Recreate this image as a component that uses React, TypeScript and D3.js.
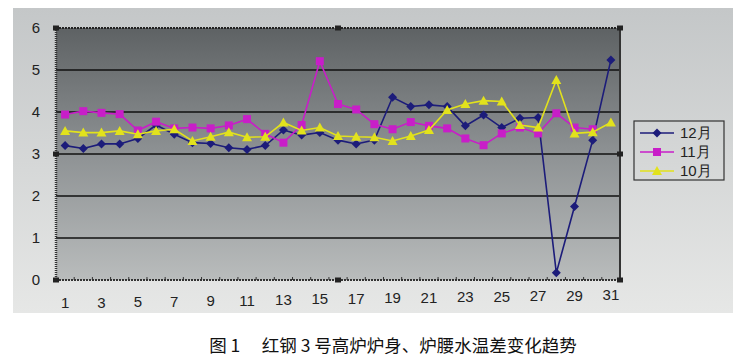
import * as d3 from "d3";
import React from "react";

const days = d3.range(1, 32);
const xTickLabels = ["1", "3", "5", "7", "9", "11", "13", "15", "17", "19", "21", "23", "25", "27", "29", "31"];
const yTicks = [0, 1, 2, 3, 4, 5, 6];

const dec = [3.2, 3.13, 3.24, 3.24, 3.37, 3.69, 3.47, 3.27, 3.25, 3.15, 3.11, 3.2, 3.57, 3.45, 3.51, 3.33,
  3.24, 3.33, 4.35, 4.13, 4.17, 4.13, 3.67, 3.93, 3.63, 3.85, 3.87, 0.17, 1.75, 3.33, 5.24];
const nov = [3.94, 4.02, 3.98, 3.95, 3.56, 3.77, 3.61, 3.63, 3.61, 3.68, 3.83, 3.48, 3.27, 3.69, 5.21, 4.19,
  4.06, 3.71, 3.59, 3.76, 3.67, 3.61, 3.37, 3.21, 3.49, 3.63, 3.49, 3.97, 3.63, 3.59];
const oct = [3.55, 3.51, 3.51, 3.55, 3.47, 3.55, 3.59, 3.31, 3.41, 3.52, 3.4, 3.41, 3.75, 3.56, 3.63, 3.43,
  3.41, 3.4, 3.31, 3.43, 3.57, 4.05, 4.19, 4.27, 4.25, 3.69, 3.63, 4.76, 3.49, 3.52, 3.75];

const seriesNames = ["12月", "11月", "10月"];
const colors = ["#1c1c7a", "#c81ec8", "#e2e21c"];
const allSeries = [dec, nov, oct];

const W = 744, H = 359;
const left = 56, right = 620, top = 28, bottom = 280;

function Marker({ kind, x, y, color }: { kind: number; x: number; y: number; color: string }) {
  if (kind === 0) {
    return <path d={`M${x},${y - 4.5}L${x + 4.5},${y}L${x},${y + 4.5}L${x - 4.5},${y}Z`} fill={color} />;
  }
  if (kind === 1) {
    return <rect x={x - 4} y={y - 4} width={8} height={8} fill={color} />;
  }
  return <path d={`M${x},${y - 5}L${x + 5},${y + 4}L${x - 5},${y + 4}Z`} fill={color} />;
}

export default function App() {
  const x = d3.scalePoint<number>().domain(days).range([left, right]).padding(0.5);
  const y = d3.scaleLinear().domain([0, 6]).range([bottom, top]);
  const line = d3.line<number>().x((_, i) => x(i + 1)!).y(d => y(d));
  const handles = [
    [left, top], [(left + right) / 2, top], [right, top],
    [left, y(3)], [right, y(3)],
    [left, bottom], [(left + right) / 2, bottom], [right, bottom],
  ];

  return (
    <svg width={W} height={H} style={{ position: "absolute", left: 0, top: 0 }}
      fontFamily="'Liberation Sans', Arial, sans-serif">
      <defs>
        <linearGradient id="bg" x1="0" y1="0" x2="0" y2="1">
          <stop offset="0" stopColor="#c4c7c8" />
          <stop offset="1" stopColor="#e6e7e6" />
        </linearGradient>
        <linearGradient id="plot" x1="0" y1="0" x2="0" y2="1">
          <stop offset="0" stopColor="#5e6264" />
          <stop offset="0.5" stopColor="#8e9294" />
          <stop offset="1" stopColor="#b9bcbc" />
        </linearGradient>
      </defs>
      <rect width={W} height={H} fill="#fff" />
      <rect x={13} y={8} width={720} height={305} fill="url(#bg)" />
      <rect x={left} y={top} width={right - left} height={bottom - top} fill="url(#plot)" />

      {yTicks.filter(t => t > 0 && t < 6).map(t => (
        <line key={t} x1={left} x2={right} y1={y(t)} y2={y(t)} stroke="#111" strokeWidth={1.4} />
      ))}
      <line x1={left} x2={right} y1={top} y2={top} stroke="#222" strokeWidth={2} strokeDasharray="2,1" />
      <line x1={right} x2={right} y1={top} y2={bottom} stroke="#333" strokeWidth={2} />
      <line x1={left} x2={left} y1={top} y2={bottom} stroke="#333" strokeWidth={2.5} strokeDasharray="1,1" />
      <line x1={left} x2={right} y1={bottom} y2={bottom} stroke="#333" strokeWidth={2} strokeDasharray="2,1" />
      {days.map(d => (
        <line key={d} x1={x(d)! + 9.1} x2={x(d)! + 9.1} y1={bottom} y2={bottom - 3} stroke="#333" />
      ))}

      {yTicks.map(t => (
        <text key={t} x={36} y={y(t)} dy="0.35em" textAnchor="middle" fontSize={15} fill="#222">{t}</text>
      ))}
      {xTickLabels.map((l, i) => (
        <text key={l} x={x(+l)!} y={303 - i * 0.55} dy="0.35em" textAnchor="middle" fontSize={15} fill="#222">{l}</text>
      ))}

      {allSeries.map((s, k) => (
        <g key={k}>
          <path d={line(s) ?? ""} fill="none" stroke={colors[k]} strokeWidth={1.6} />
          {s.map((v, i) => <Marker key={i} kind={k} x={x(i + 1)!} y={y(v)} color={colors[k]} />)}
        </g>
      ))}

      {handles.map(([hx, hy], i) => (
        <rect key={i} x={hx - 3} y={hy - 2.5} width={6} height={5} fill="#222" />
      ))}

      <rect x={634} y={121} width={90} height={59} fill="none" stroke="#333" strokeWidth={1.2} />
      {seriesNames.map((n, k) => (
        <g key={n} transform={`translate(0,${133 + k * 19})`}>
          <line x1={640} x2={674} y1={0} y2={0} stroke={colors[k]} strokeWidth={1.6} />
          <Marker kind={k} x={657} y={0} color={colors[k]} />
          <text x={680} y={0} dy="0.35em" fontSize={15} fill="#222">{n}</text>
        </g>
      ))}

      <text x={393} y={346} dy="0.35em" textAnchor="middle" fontSize={17.5}
        fontFamily="'Noto Sans CJK SC', sans-serif" fill="#111" xmlSpace="preserve">图 1　 红钢 3 号高炉炉身、炉腰水温差变化趋势</text>
    </svg>
  );
}
